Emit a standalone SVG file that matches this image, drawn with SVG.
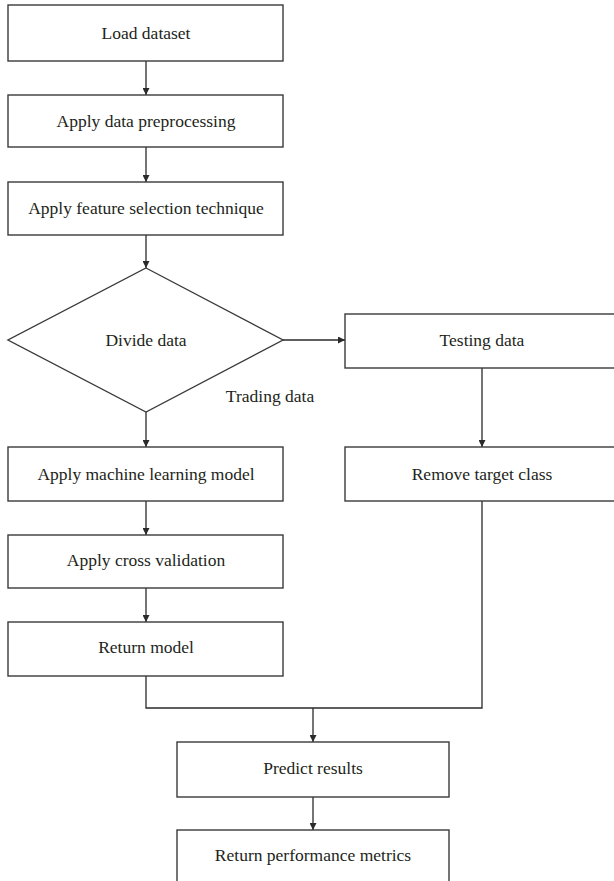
<svg xmlns="http://www.w3.org/2000/svg" width="614" height="881" viewBox="0 0 614 881">
<style>
.box{fill:#fff;stroke:#3a3a3a;stroke-width:1.4}
.t{font-family:"Liberation Serif",serif;font-size:17.5px;fill:#231f20;text-anchor:middle}
.c{fill:none;stroke:#2a2a2a;stroke-width:1.3}
</style>
<defs>
<marker id="ah" viewBox="0 0 10 10" refX="10" refY="5" markerWidth="7" markerHeight="7" markerUnits="userSpaceOnUse" orient="auto">
<path d="M0,0 L10,5 L0,10 z" fill="#2a2a2a"/>
</marker>
</defs>
<rect width="614" height="881" fill="#fff"/>
<g id="connectors">
<line class="c" x1="146" y1="61" x2="146" y2="95" marker-end="url(#ah)"/>
<line class="c" x1="146" y1="147" x2="146" y2="182" marker-end="url(#ah)"/>
<line class="c" x1="146" y1="235" x2="146" y2="268" marker-end="url(#ah)"/>
<line class="c" x1="146" y1="412" x2="146" y2="447" marker-end="url(#ah)"/>
<line class="c" x1="283" y1="340" x2="345" y2="340" marker-end="url(#ah)"/>
<line class="c" x1="482" y1="368" x2="482" y2="447" marker-end="url(#ah)"/>
<line class="c" x1="146" y1="501" x2="146" y2="535" marker-end="url(#ah)"/>
<line class="c" x1="146" y1="588" x2="146" y2="622" marker-end="url(#ah)"/>
<polyline class="c" points="146,676 146,708 482,708 482,501"/>
<line class="c" x1="313" y1="708" x2="313" y2="742" marker-end="url(#ah)"/>
<line class="c" x1="313" y1="797" x2="313" y2="830" marker-end="url(#ah)"/>
<text class="t" x="270" y="402">Trading data</text>
</g>
<g id="n1"><rect class="box" x="8" y="5" width="275" height="56"/><text class="t" x="146" y="39">Load dataset</text></g>
<g id="n2"><rect class="box" x="8" y="95" width="275" height="52"/><text class="t" x="146" y="127">Apply data preprocessing</text></g>
<g id="n3"><rect class="box" x="8" y="182" width="275" height="53"/><text class="t" x="146" y="214">Apply feature selection technique</text></g>
<g id="n4"><polygon class="box" points="146,268 283,340 146,412 8,340"/><text class="t" x="146" y="346">Divide data</text></g>
<g id="n5"><rect class="box" x="345" y="314" width="275" height="54"/><text class="t" x="482" y="346">Testing data</text></g>
<g id="n6"><rect class="box" x="8" y="447" width="275" height="54"/><text class="t" x="146" y="480">Apply machine learning model</text></g>
<g id="n7"><rect class="box" x="345" y="447" width="275" height="54"/><text class="t" x="482" y="480">Remove target class</text></g>
<g id="n8"><rect class="box" x="8" y="535" width="275" height="53"/><text class="t" x="146" y="566">Apply cross validation</text></g>
<g id="n9"><rect class="box" x="8" y="622" width="275" height="54"/><text class="t" x="146" y="653">Return model</text></g>
<g id="n10"><rect class="box" x="177" y="742" width="272" height="55"/><text class="t" x="313" y="774">Predict results</text></g>
<g id="n11"><rect class="box" x="177" y="830" width="272" height="60"/><text class="t" x="313" y="861">Return performance metrics</text></g>
</svg>
